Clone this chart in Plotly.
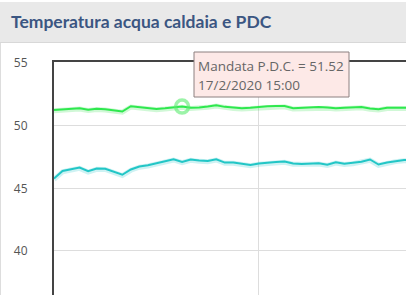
import plotly.graph_objects as go
import pandas as pd

# ---- data ----
times = pd.date_range("2020-02-17 00:00", periods=43, freq="h")
mandata_pdc = [51.25, 51.29, 51.33, 51.38, 51.27, 51.34, 51.30, 51.22, 51.13, 51.55,
               51.47, 51.41, 51.33, 51.38, 51.45, 51.52, 51.43, 51.44, 51.52, 51.62,
               51.50, 51.42, 51.39, 51.42, 51.49, 51.54, 51.57, 51.57, 51.39, 51.42,
               51.46, 51.49, 51.44, 51.39, 51.42, 51.46, 51.49, 51.37, 51.31, 51.43,
               51.43, 51.43, 51.43]
caldaia = [45.78, 46.38, 46.52, 46.65, 46.36, 46.58, 46.56, 46.34, 46.08, 46.50,
           46.74, 46.84, 46.98, 47.18, 47.32, 47.10, 47.30, 47.21, 47.18, 47.32,
           47.05, 47.05, 46.96, 46.86, 46.98, 47.06, 47.10, 47.14, 46.98, 46.94,
           46.97, 46.99, 46.89, 47.08, 46.96, 47.02, 47.12, 47.30, 46.90, 47.06,
           47.19, 47.26, 47.26]
highlight_idx = 15
title_text = "Temperatura acqua caldaia e PDC"
tooltip_series = "Mandata P.D.C."
tooltip_date = "17/2/2020 15:00"
y_ticks = [40, 45, 50, 55]

W, H = 406, 295
L, T = 54, 62
pw, ph = W - L, H - T


def px2paper_x(px):
    return (px - L) / pw


def px2paper_y(py):
    return (H - py) / ph


fig = go.Figure()

# glow / shadow traces
for ys, col in [(mandata_pdc, "rgba(40,225,70,0.22)"), (caldaia, "rgba(30,195,200,0.22)")]:
    fig.add_trace(go.Scatter(x=times, y=[v - 0.06 for v in ys], mode="lines",
                             line=dict(color=col, width=5), hoverinfo="skip"))

fig.add_trace(go.Scatter(x=times, y=caldaia, mode="lines",
                         line=dict(color="#22c6c6", width=2), name="Caldaia"))
fig.add_trace(go.Scatter(x=times, y=mandata_pdc, mode="lines",
                         line=dict(color="#2ee84e", width=2), name=tooltip_series))
fig.add_trace(go.Scatter(x=[times[highlight_idx]], y=[mandata_pdc[highlight_idx]],
                         mode="markers",
                         marker=dict(symbol="circle-open", size=13,
                                     color="rgba(90,235,110,0.6)",
                                     line=dict(color="rgba(90,235,110,0.6)", width=3.5)),
                         hoverinfo="skip"))

shapes = [
    # header band
    dict(type="rect", xref="paper", yref="paper",
         x0=px2paper_x(-2), x1=px2paper_x(W + 2), y0=px2paper_y(42), y1=px2paper_y(2),
         fillcolor="#e9e9e9", line=dict(width=0), layer="below"),
    dict(type="line", xref="paper", yref="paper",
         x0=px2paper_x(0), x1=px2paper_x(W + 2), y0=px2paper_y(42.5), y1=px2paper_y(42.5),
         line=dict(color="#d8d8d8", width=1), layer="below"),
    # left panel border
    dict(type="line", xref="paper", yref="paper",
         x0=px2paper_x(0.5), x1=px2paper_x(0.5), y0=px2paper_y(43), y1=px2paper_y(H + 2),
         line=dict(color="#dddddd", width=1), layer="below"),
    # tooltip box
    dict(type="rect", xref="paper", yref="paper",
         x0=px2paper_x(194), x1=px2paper_x(349), y0=px2paper_y(97), y1=px2paper_y(52),
         fillcolor="#fde9e7", line=dict(color="#8c8080", width=1), layer="above"),
]

annotations = [
    dict(xref="paper", yref="paper", x=px2paper_x(9), y=px2paper_y(21),
         xanchor="left", yanchor="middle", showarrow=False,
         text=title_text, font=dict(family="Lato", size=17.5, color="#3b5682", weight=700)),
    dict(xref="paper", yref="paper", x=px2paper_x(196), y=px2paper_y(65.5),
         xanchor="left", yanchor="middle", showarrow=False, align="left",
         text=f"{tooltip_series} = {mandata_pdc[highlight_idx]:.2f}",
         font=dict(family="Open Sans", size=13.5, color="#666666")),
    dict(xref="paper", yref="paper", x=px2paper_x(196), y=px2paper_y(85),
         xanchor="left", yanchor="middle", showarrow=False, align="left",
         text=tooltip_date,
         font=dict(family="Open Sans", size=13.5, color="#666666")),
]

fig.update_layout(
    width=W, height=H,
    margin=dict(l=L, r=0, t=T, b=0),
    paper_bgcolor="white", plot_bgcolor="white",
    showlegend=False, hovermode=False,
    shapes=shapes, annotations=annotations,
    xaxis=dict(range=[pd.Timestamp("2020-02-17 00:00"),
                      pd.Timestamp("2020-02-17 00:00") + pd.Timedelta(hours=pw / 8.54)],
               side="top", showline=True, linecolor="#444444", linewidth=2,
               showticklabels=False, ticks="",
               showgrid=True, gridcolor="#dddddd", gridwidth=1,
               tick0="2020-02-17", dtick=86400000, zeroline=False),
    yaxis=dict(range=[55 - (H - 63) / 12.53, 55 + 1 / 12.53],
               tickvals=y_ticks, ticktext=[str(v) for v in y_ticks],
               showline=True, linecolor="#444444", linewidth=2,
               ticks="", ticklabelstandoff=22,
               tickfont=dict(family="Open Sans", size=12, color="#555555"),
               showgrid=True, gridcolor="#dddddd", gridwidth=1, zeroline=False),
)

fig.write_html("out.html", config={"displayModeBar": False})
